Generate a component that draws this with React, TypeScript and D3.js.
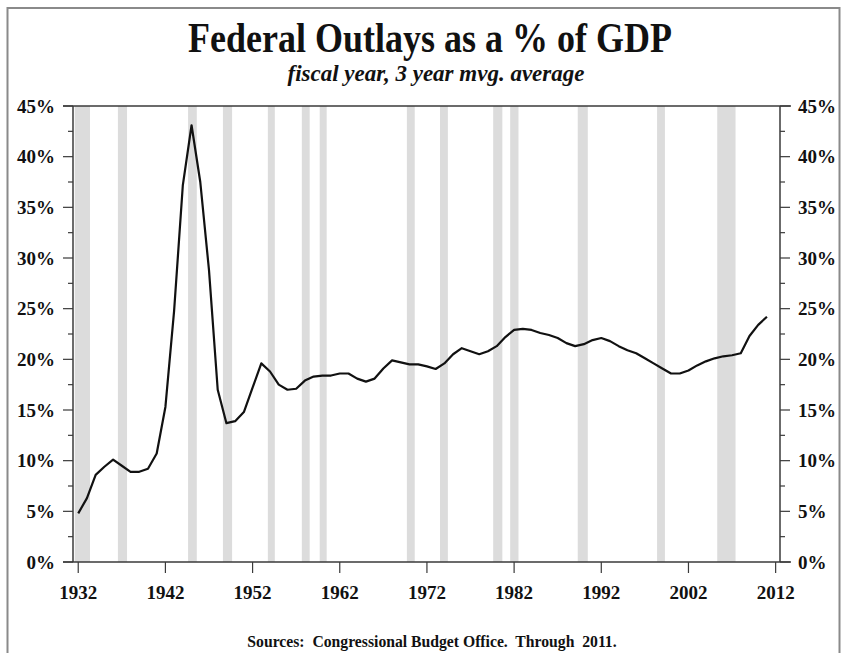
import React from "react";
import * as d3 from "d3";

const years: number[] = d3.range(1932, 2012);
const outlays: number[] = [
  4.8, 6.3, 8.6, 9.4, 10.1, 9.5, 8.9, 8.9, 9.2, 10.7,
  15.3, 24.8, 37.2, 43.1, 37.5, 28.8, 17.0, 13.7, 13.9, 14.8,
  17.2, 19.6, 18.8, 17.5, 17.0, 17.1, 17.9, 18.3, 18.4, 18.4,
  18.6, 18.6, 18.1, 17.8, 18.1, 19.1, 19.9, 19.7, 19.5, 19.5,
  19.3, 19.05, 19.6, 20.5, 21.1, 20.8, 20.5, 20.8, 21.3, 22.2,
  22.9, 23.0, 22.9, 22.6, 22.4, 22.1, 21.6, 21.3, 21.5, 21.9,
  22.1, 21.8, 21.3, 20.9, 20.6, 20.1, 19.6, 19.1, 18.6, 18.6,
  18.9, 19.4, 19.8, 20.1, 20.3, 20.4, 20.6, 22.3, 23.4, 24.2,
];

const recessionStart: number[] = [1931.6, 1936.55, 1944.6, 1948.6, 1953.75, 1957.65, 1959.7, 1969.7, 1973.5, 1979.6, 1981.55, 1989.3, 1998.4, 2005.3];
const recessionEnd: number[] = [1933.35, 1937.6, 1945.6, 1949.65, 1954.55, 1958.55, 1960.5, 1970.6, 1974.4, 1980.65, 1982.5, 1990.45, 1999.3, 2007.4];

const yearTicks: number[] = [1932, 1942, 1952, 1962, 1972, 1982, 1992, 2002, 2012];
const pctTicks: number[] = d3.range(0, 45.01, 2.5);

const title = "Federal Outlays as a % of GDP";
const subtitle = "fiscal year, 3 year mvg. average";
const source = "Sources:  Congressional Budget Office.  Through  2011.";

export default function App() {
  const W = 841, H = 653;
  const left = 73, right = 780, top = 106, bottom = 562;
  const x = d3.scaleLinear().domain([1931.4, 2012.5]).range([left, right]);
  const y = d3.scaleLinear().domain([0, 45]).range([bottom, top]);
  const line = d3.line<number>().x((_, i) => x(years[i])).y((d) => y(d));
  const font = "'Liberation Serif', 'Times New Roman', serif";
  const axisColor = "#3a3a3a";

  return (
    <svg width={W} height={H} style={{ position: "absolute", left: 0, top: 0, background: "#fff" }} fontFamily={font}>
      <rect x={0} y={0} width={W} height={H} fill="#fff" />
      <rect x={7.5} y={8} width={832} height={700} fill="none" stroke="#8a8a8a" strokeWidth={2} />
      {recessionStart.map((s, i) => (
        <rect key={i} x={x(s)} y={top} width={x(recessionEnd[i]) - x(s)} height={bottom - top} fill="#dcdcdc" />
      ))}
      <g transform="translate(430,52) scale(1,1.15)">
        <text x={0} y={0} textAnchor="middle" fontSize={36} fontWeight="bold" fill="#111">{title}</text>
      </g>
      <text x={436} y={81} textAnchor="middle" fontSize={23} fontWeight="bold" fontStyle="italic" fill="#111">{subtitle}</text>
      <line x1={63} x2={791} y1={top} y2={top} stroke={axisColor} strokeWidth={1.5} />
      <line x1={63} x2={791} y1={bottom} y2={bottom} stroke={axisColor} strokeWidth={1.5} />
      <line x1={left} x2={left} y1={top} y2={bottom} stroke={axisColor} strokeWidth={1.5} />
      <line x1={right} x2={right} y1={top} y2={bottom} stroke={axisColor} strokeWidth={1.5} />
      {pctTicks.map((t) => {
        const major = Math.abs(t % 5) < 1e-6;
        const len = major ? 10 : 5;
        return (
          <g key={t}>
            <line x1={left - len} x2={left} y1={y(t)} y2={y(t)} stroke={axisColor} strokeWidth={1.2} />
            <line x1={right} x2={right + len} y1={y(t)} y2={y(t)} stroke={axisColor} strokeWidth={1.2} />
            {major && (
              <>
                <text x={55} y={y(t)} dy="0.35em" textAnchor="end" fontSize={19} fontWeight="bold" fill="#111">{`${t}%`}</text>
                <text x={798} y={y(t)} dy="0.35em" textAnchor="start" fontSize={19} fontWeight="bold" fill="#111">{`${t}%`}</text>
              </>
            )}
          </g>
        );
      })}
      {yearTicks.map((t) => (
        <g key={t}>
          <line x1={x(t)} x2={x(t)} y1={bottom} y2={bottom + 11} stroke={axisColor} strokeWidth={1.2} />
          <text x={x(t)} y={599} textAnchor="middle" fontSize={19} fontWeight="bold" fill="#111">{t}</text>
        </g>
      ))}
      <path d={line(outlays) || ""} fill="none" stroke="#111" strokeWidth={2.2} strokeLinejoin="round" />
      <text x={432} y={647} textAnchor="middle" fontSize={15.7} fontWeight="bold" fill="#111" style={{ whiteSpace: "pre" }} xmlSpace="preserve">{source}</text>
    </svg>
  );
}
